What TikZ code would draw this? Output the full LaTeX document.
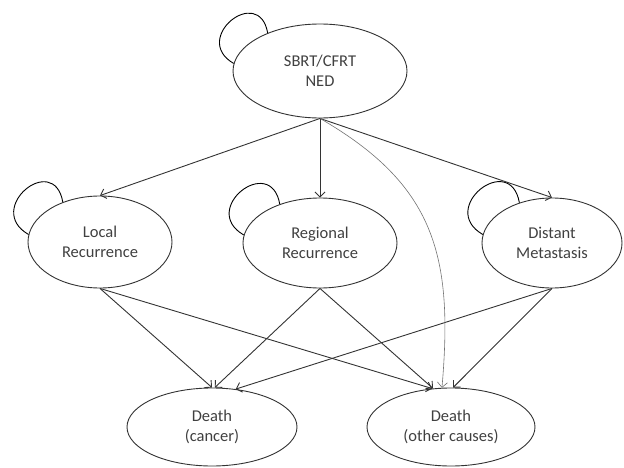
\documentclass[tikz,border=0pt]{standalone}
\usepackage{fontspec}
\setmainfont{Carlito}
\usetikzlibrary{shapes.geometric,arrows.meta}

\begin{document}
\begin{tikzpicture}[x=1pt, y=1pt, line width=0.9pt,
  >={Straight Barb[length=5pt,width=10pt]},
  state/.style={draw=black!80, ellipse, inner sep=0pt, align=center,
    text=black!75, font=\fontsize{16.5}{20}\selectfont},
  selfloop/.style={->, draw=black!80, out=150, in=100, looseness=2.8}]

\useasboundingbox (0,0) rectangle (624,467);

% States
\node[state, minimum width=174pt, minimum height=94pt] (sbrt) at (320,396) {SBRT/CFRT\\NED};

\node[state, minimum width=144pt, minimum height=92pt] (local) at (100,225) {Local\\Recurrence};
\node[state, minimum width=154pt, minimum height=90pt] (regional) at (320,224) {Regional\\Recurrence};
\node[state, minimum width=140pt, minimum height=90pt] (distant) at (552,224) {Distant\\Metastasis};

\node[state, minimum width=170pt, minimum height=78pt] (deathc) at (212,40) {Death\\(cancer)};
\node[state, minimum width=168pt, minimum height=78pt] (deatho) at (451,40) {Death\\(other causes)};

% Self transitions
\foreach \s/\a/\b in {sbrt/175/144, local/174/133, regional/174/136, distant/173/129} {
  \draw (\s.\a) to[selfloop] (\s.\b);
}

% Recurrence
\foreach \s in {local,regional,distant} {
  \draw[->, draw=black!80] (sbrt.south) -- (\s.north);
}

% Death
\foreach \s/\a/\b in {local/90/116, regional/86/115, distant/58/87} {
  \draw[->, draw=black!80] (\s.south) -- (deathc.\a);
  \draw[->, draw=black!80] (\s.south) -- (deatho.\b);
}
\draw[->, draw=black!55, line width=0.6pt] (sbrt.south) to[out=-30, in=85, looseness=1.15] (deatho.103);

\end{tikzpicture}
\end{document}
